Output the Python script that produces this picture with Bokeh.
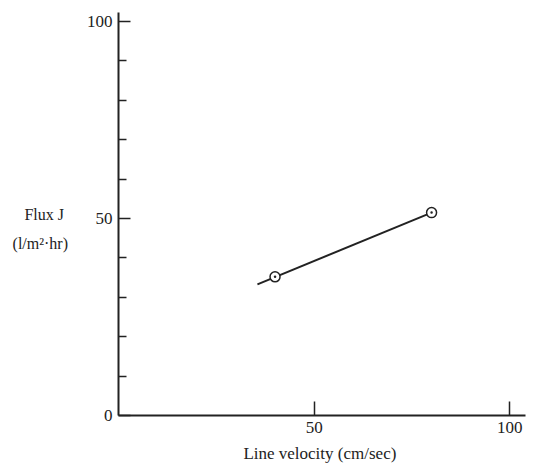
from bokeh.plotting import figure
from bokeh.models import FixedTicker, Range1d
from bokeh.embed import file_html
from bokeh.resources import INLINE

# Data
point_velocity = [40, 80]
point_flux = [35.2, 51.5]
line_velocity = [35.5, 80]
line_flux = [33.3, 51.5]

y_major = [0, 50, 100]
y_minor = [10, 20, 30, 40, 60, 70, 80, 90]
x_major = [50, 100]

FONT = "Liberation Serif"
INK = "#222222"

p = figure(width=530, height=468, output_backend="svg", toolbar_location=None,
           x_range=Range1d(0, 104), y_range=Range1d(0, 102.3),
           min_border_left=118, min_border_right=5, min_border_top=12, min_border_bottom=53)
p.outline_line_color = None
p.xgrid.grid_line_color = None
p.ygrid.grid_line_color = None
p.background_fill_color = "white"

# y axis
p.yaxis.ticker = FixedTicker(ticks=y_major, minor_ticks=y_minor)
p.yaxis.major_tick_in = 12
p.yaxis.major_tick_out = 0
p.yaxis.minor_tick_in = 8
p.yaxis.minor_tick_out = 0
p.yaxis.axis_line_width = 2
p.yaxis.major_tick_line_width = 1.5
p.yaxis.minor_tick_line_width = 1.5
p.yaxis.axis_line_color = INK
p.yaxis.major_tick_line_color = INK
p.yaxis.minor_tick_line_color = INK
p.yaxis.major_label_text_font = FONT
p.yaxis.major_label_text_font_size = "17px"
p.yaxis.major_label_text_color = INK
p.yaxis.major_label_standoff = 6
p.yaxis.axis_label = "\nFlux  J\n(l/m²·hr)"
p.yaxis.axis_label_orientation = "horizontal"
p.yaxis.axis_label_text_font = FONT
p.yaxis.axis_label_text_font_style = "normal"
p.yaxis.axis_label_text_font_size = "16px"
p.yaxis.axis_label_text_color = INK
p.yaxis.axis_label_text_line_height = 1.75
p.yaxis.axis_label_text_align = "center"
p.yaxis.axis_label_standoff = 16

# x axis
p.xaxis.ticker = FixedTicker(ticks=x_major, minor_ticks=[])
p.xaxis.major_tick_in = 14
p.xaxis.major_tick_out = 0
p.xaxis.minor_tick_line_color = None
p.xaxis.axis_line_width = 2
p.xaxis.major_tick_line_width = 1.5
p.xaxis.axis_line_color = INK
p.xaxis.major_tick_line_color = INK
p.xaxis.major_label_text_font = FONT
p.xaxis.major_label_text_font_size = "17px"
p.xaxis.major_label_text_color = INK
p.xaxis.major_label_standoff = 6
p.xaxis.axis_label = "Line velocity  (cm/sec)"
p.xaxis.axis_label_text_font = FONT
p.xaxis.axis_label_text_font_style = "normal"
p.xaxis.axis_label_text_font_size = "17px"
p.xaxis.axis_label_text_color = INK
p.xaxis.axis_label_standoff = 8

# data
p.line(line_velocity, line_flux, line_color=INK, line_width=2)
p.scatter(point_velocity, point_flux, marker="circle_dot", size=10, line_color=INK,
          line_width=1.5, fill_color="white")

open("out.html", "w").write(file_html(p, INLINE))
